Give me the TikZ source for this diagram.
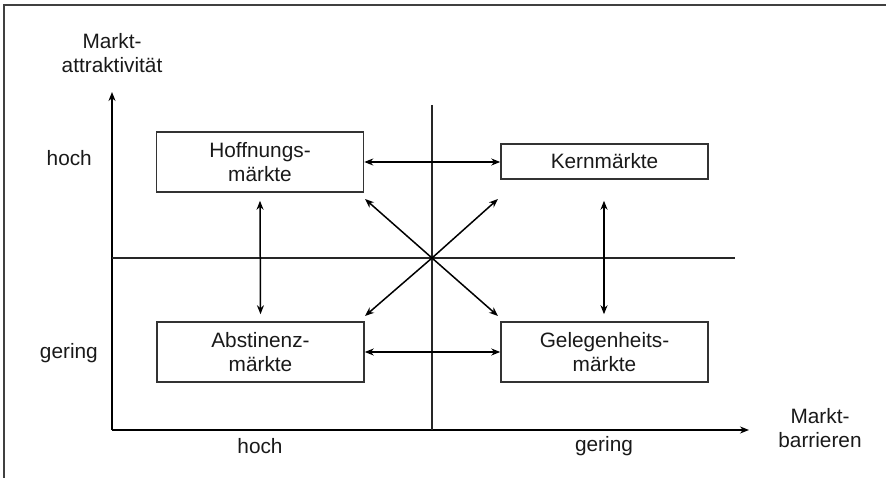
\documentclass[tikz,border=0pt]{standalone}
\usepackage{fontspec}
\setmainfont{Liberation Sans}
\usetikzlibrary{arrows.meta}
\begin{document}
\begin{tikzpicture}[x=1pt,y=-1pt,
  every node/.style={font=\fontsize{20.8}{24}\selectfont, text=black!90, align=center, inner sep=0pt},
  mbox/.style={draw=black!80, line width=1.5pt, minimum width=207pt},
  ln/.style={line width=1.5pt, black},
  arr/.style={ln, -{Stealth[length=9pt,width=7pt]}},
  darr/.style={ln, {Stealth[length=9pt,width=7pt]}-{Stealth[length=9pt,width=7pt]}}]
\useasboundingbox (0,0) rectangle (886,478);
% frame
\draw[line width=1.8pt, black!75] (4,478) -- (4,5) -- (886,5);
% axes
\coordinate (o) at (112,430);
\coordinate (ytip) at (112,92);
\coordinate (xtip) at (749,430);
\coordinate (c) at (432,258);
\coordinate (vtop) at (432,105);
\coordinate (vbot) at (432,430);
\coordinate (hl) at (112,258);
\coordinate (hr) at (735,258);
\draw[arr] (o) -- (ytip);
\draw[arr] (o) -- (xtip);
\draw[line width=1.3pt, black!85] (vtop) -- (vbot);
\draw[line width=1.3pt, black!85] (hl) -- (hr);
% boxes
\node[mbox, minimum height=60pt] (hoff) at (260,162) {Hoffnungs-\\märkte};
\node[mbox, minimum height=35pt] (kern) at (604.5,161.5) {Kernmärkte};
\node[mbox, minimum height=60pt] (abst) at (260.5,352) {Abstinenz-\\märkte};
\node[mbox, minimum height=60pt] (gel) at (604.5,352) {Gelegenheits-\\märkte};
% arrows
\draw[darr] (hoff.east) -- (kern.west |- hoff.east);
\draw[darr] (abst.east) -- (gel.west);
\draw[darr] ([yshift=-8pt]hoff.south) -- ([yshift=7pt]abst.north);
\draw[darr] ([yshift=-21pt]kern.south -| 604,0) -- ([yshift=7pt]gel.north -| 604,0);
\coordinate (d1) at (365,199);
\coordinate (d2) at (498,199);
\coordinate (d3) at (365,316);
\coordinate (d4) at (498,316);
\draw[arr] (c) -- (d1);
\draw[arr] (c) -- (d2);
\draw[arr] (c) -- (d3);
\draw[arr] (c) -- (d4);
% labels
\node (ya) at (112,53) {Markt-\\attraktivität};
\node[anchor=east] (yh) at (92,158) {hoch};
\node[anchor=east] (yg) at (98,353) {gering};
\node (xh) at (260,446) {hoch};
\node (xg) at (604,446) {gering};
\node (xa) at (820,428) {Markt-\\barrieren};
\end{tikzpicture}
\end{document}
